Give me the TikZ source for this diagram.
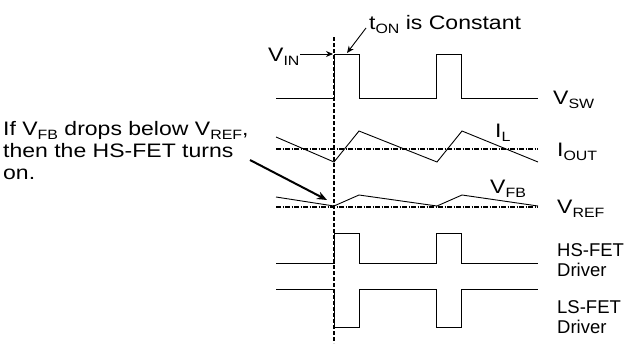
\documentclass[tikz,border=0pt]{standalone}
\usepackage{fontspec}
\setmainfont{Liberation Sans}
\newfontfamily\widefont{Liberation Sans}[FakeStretch=1.18]
\usetikzlibrary{arrows.meta}
\newcommand\sbs[1]{\raisebox{-0.23em}{\fontsize{13.5}{13.5}\selectfont #1}}
\begin{document}
\begin{tikzpicture}[x=1pt,y=-1pt,
  lbl/.style={font=\widefont\fontsize{19.5}{20}\selectfont, inner sep=0pt, anchor=base west},
  lbl2/.style={font=\fontsize{18.5}{20}\selectfont, inner sep=0pt, anchor=north west, align=left},
  sig/.style={line width=0.9pt},
  refline/.style={line width=1.2pt, dash pattern=on 5pt off 1.5pt on 1pt off 1.5pt},
  arr/.style={line width=0.9pt, -{Stealth[length=7pt,width=6pt]}},
  bigarr/.style={line width=2pt, -{Stealth[length=10pt,width=8pt]}}]
\useasboundingbox (0,0) rectangle (629,343);
% dashed vertical
\coordinate (dtop) at (334,37);
\coordinate (dbot) at (334,343);
\draw[line width=1.3pt, dash pattern=on 4pt off 2pt] (dtop) -- (dbot);
% V_SW
\draw[sig] (276,98) -- (334,98) -- (334,54) -- (359,54) -- (359,98) -- (436,98) -- (436,54) -- (461,54) -- (461,98) -- (538,98);
% I_L and I_OUT
\draw[refline] (276,149) -- (538,149);
\draw[sig] (276,137) -- (334,162) -- (359,131) -- (437,162) -- (462,131) -- (538,162);
% V_FB and V_REF
\draw[refline] (276,207) -- (538,207);
\draw[sig] (276,197) -- (334,206) -- (359,195) -- (437,206) -- (462,195) -- (538,206);
% HS driver
\draw[sig] (276,263) -- (334,263) -- (334,233) -- (359,233) -- (359,263) -- (436,263) -- (436,233) -- (461,233) -- (461,263) -- (538,263);
% LS driver
\draw[sig] (276,289) -- (334,289) -- (334,327) -- (359,327) -- (359,289) -- (436,289) -- (436,327) -- (461,327) -- (461,289) -- (538,289);
% labels
\node[lbl] (ton) at (369,29) {t\sbs{ON} is Constant};
\node[lbl] (vin) at (268,61) {V\sbs{IN}};
\node[lbl] (vsw) at (553,104) {V\sbs{SW}};
\node[lbl] (il) at (495,137) {I\sbs{L}};
\node[lbl] (iout) at (557,156) {I\sbs{OUT}};
\node[lbl] (vfb) at (490,193) {V\sbs{FB}};
\node[lbl] (vref) at (557,213) {V\sbs{REF}};
\node[lbl2] (hs) at (557,243) {HS-FET\\Driver};
\node[lbl2] (ls) at (557,300) {LS-FET\\Driver};
\node[lbl] (l1) at (3,135) {If V\sbs{FB} drops below V\sbs{REF},};
\node[lbl] (l2) at (3,157) {then the HS-FET turns};
\node[lbl] (l3) at (3,179) {on.};
% arrows
\coordinate (vinA) at (300,54);
\coordinate (vinB) at (333,54);
\coordinate (tonA) at (366,28);
\coordinate (tonB) at (347,53);
\coordinate (hsA) at (250,160);
\coordinate (hsB) at (327,200);
\draw[arr] (vinA) -- (vinB);
\draw[arr] (tonA) -- (tonB);
\draw[bigarr] (hsA) -- (hsB);
\end{tikzpicture}
\end{document}
